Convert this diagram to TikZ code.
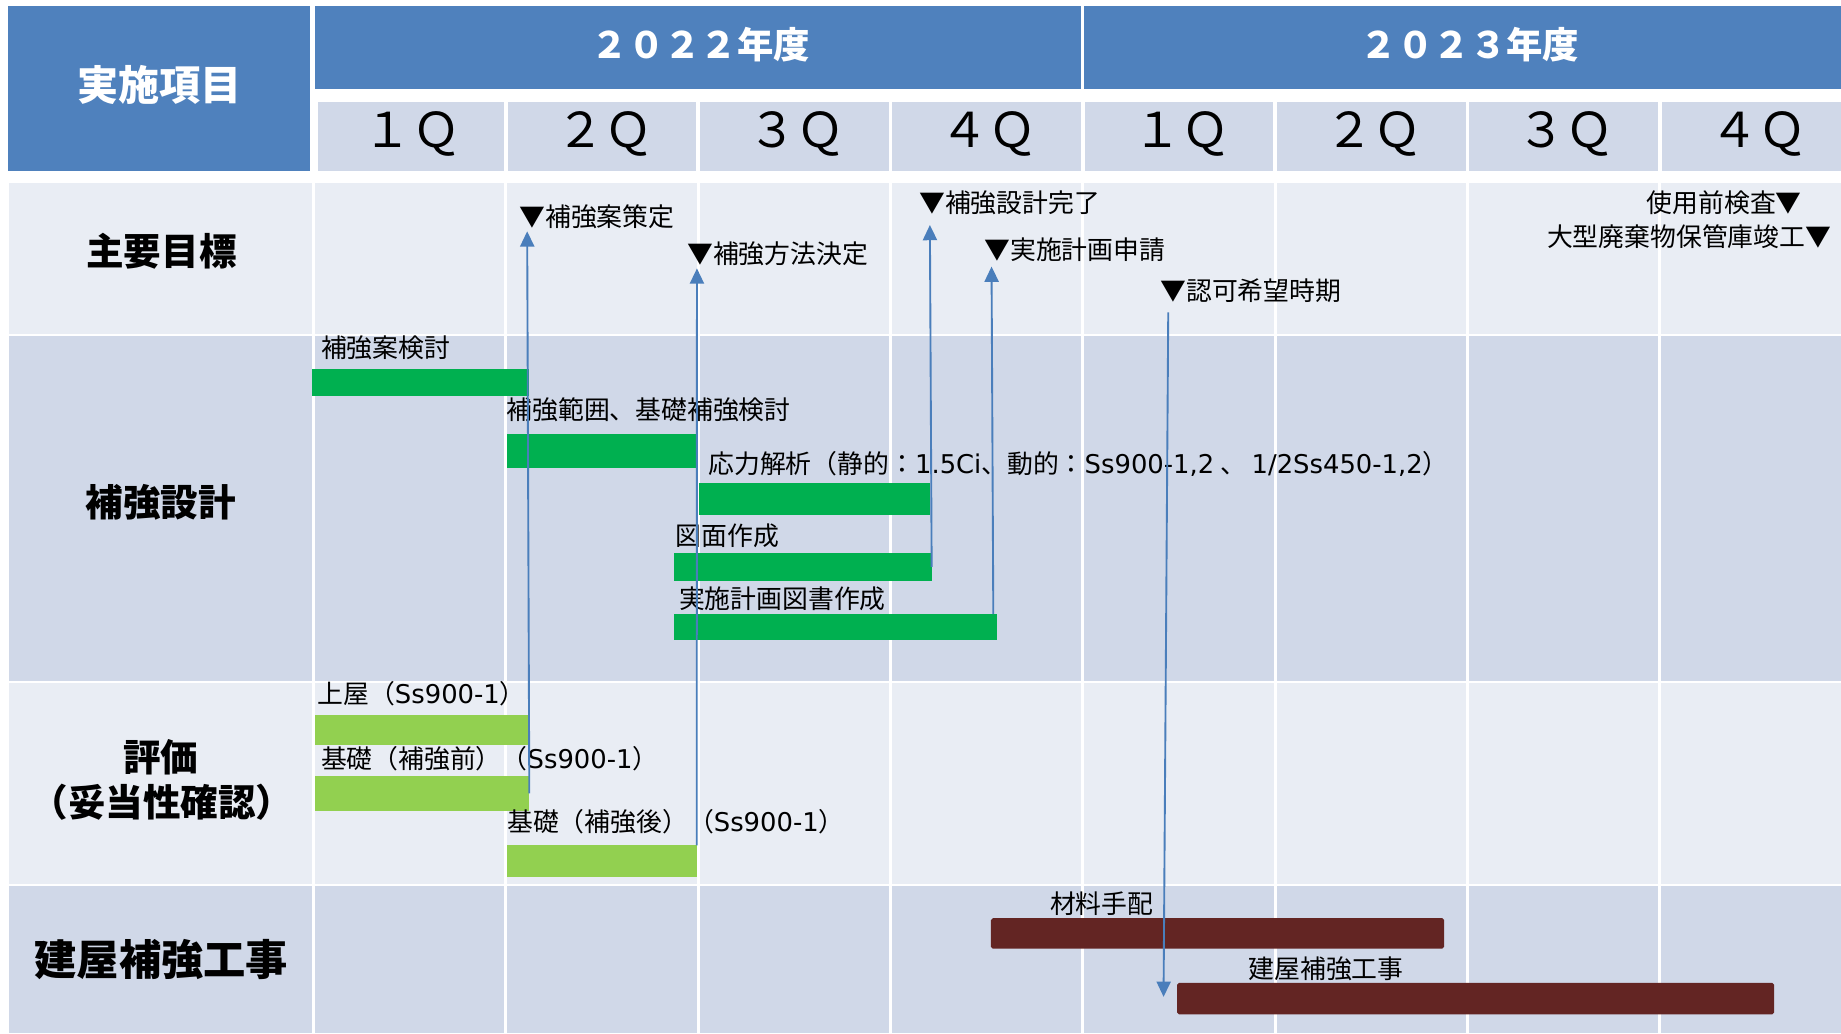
\documentclass[tikz,border=0pt]{standalone}
\usepackage{fontspec}
\setmainfont{Noto Sans CJK JP}
\newfontfamily\latf{DejaVu Sans}
\newcommand{\lt}[1]{{\latf #1}}
\usetikzlibrary{arrows.meta}
\definecolor{hdr}{HTML}{4F81BD}
\definecolor{qcell}{HTML}{D0D8E8}
\definecolor{lrow}{HTML}{E9EDF4}
\definecolor{barG}{HTML}{00B050}
\definecolor{barL}{HTML}{92D050}
\definecolor{barR}{HTML}{632523}
\definecolor{arrC}{HTML}{4A7EBB}
\begin{document}
\begin{tikzpicture}[x=0.5pt,y=-0.5pt,
  lbl/.style={anchor=west, inner sep=0pt, font=\fontsize{11pt}{13pt}\selectfont, text height=9.6pt, text depth=1.4pt},
  lblr/.style={lbl, anchor=east},
  hdrtxt/.style={inner sep=0pt, text=white, font=\bfseries\fontsize{17.5pt}{20pt}\selectfont, text height=15.4pt, text depth=2.1pt},
  yeartxt/.style={inner sep=0pt, text=white, font=\bfseries\fontsize{15.5pt}{18pt}\selectfont, text height=13.6pt, text depth=1.9pt},
  qtxt/.style={inner sep=0pt, font=\fontsize{20.5pt}{24pt}\selectfont, text height=18pt, text depth=2.5pt},
  rowlbl/.style={inner sep=0pt, font=\bfseries\fontsize{16pt}{19pt}\selectfont, text height=14.1pt, text depth=1.9pt},
  rowbig/.style={inner sep=0pt, font=\bfseries\fontsize{18pt}{21pt}\selectfont, text height=15.8pt, text depth=2.2pt},
  barbase/.style={inner sep=0pt, outer sep=0pt, anchor=north west, draw=none},
  gbar/.style={barbase, fill=barG},
  lbar/.style={barbase, fill=barL},
  rbar/.style={barbase, fill=barR, rounded corners=0.8pt},
  arr/.style={draw=arrC, line width=0.8pt, -{Triangle[width=6pt,length=6.5pt]}}
]
\useasboundingbox (0,0) rectangle (1568,880);
\fill[white] (0,0) rectangle (1568,880);
% header
\fill[hdr] (7,5) rectangle (264,146);
\fill[hdr] (268,5) rectangle (921,76);
\fill[hdr] (923,5) rectangle (1568,76);
\foreach \a/\b in {271/429.3, 432.3/593.1, 596.1/756.9, 759.9/920.7, 923.7/1084.5, 1087.5/1248.3, 1251.3/1412.1, 1415.1/1568}
  \fill[qcell] (\a,86.5) rectangle (\b,146);
% body rows
\fill[lrow] (7.5,156) rectangle (1568,284.5);
\fill[qcell] (7.5,286) rectangle (1568,580);
\fill[lrow] (7.5,582) rectangle (1568,752.5);
\fill[qcell] (7.5,754.5) rectangle (1568,880);
\foreach \x in {267,430.8,594.6,758.4,922.2,1086,1249.8,1413.6}
  \draw[white, line width=1.25pt] (\x,156) -- (\x,880);
% header texts
\node[hdrtxt] (hItem) at (136,72) {実施項目};
\node[yeartxt] (y22) at (597,38.5) {２０２２年度};
\node[yeartxt] (y23) at (1252,38.5) {２０２３年度};
\foreach \i/\x/\t in {1/351/１Ｑ, 2/514.7/２Ｑ, 3/678.5/３Ｑ, 4/842.3/４Ｑ, 5/1006/１Ｑ, 6/1170/２Ｑ, 7/1333.7/３Ｑ, 8/1497.5/４Ｑ}
  \node[qtxt] (q\i) at (\x,110) {\t};
% row labels
\node[rowlbl] (rGoal) at (137.5,213.5) {主要目標};
\node[rowlbl] (rDesign) at (137,428) {補強設計};
\node[rowlbl] (rEvalA) at (137,644.5) {評価};
\node[rowlbl] (rEvalB) at (138,683) {（妥当性確認）};
\node[rowbig] (rWork) at (137.5,817.5) {建屋補強工事};
% design bars
\node[gbar, minimum width=92.5pt, minimum height=11.2pt] (b1) at (265.5,314.6) {};
\node[gbar, minimum width=81pt, minimum height=14.25pt] (b2) at (432,369.8) {};
\node[gbar, minimum width=98.5pt, minimum height=13.5pt] (b3) at (595,411.5) {};
\node[gbar, minimum width=109.75pt, minimum height=12pt] (b4) at (574,470.7) {};
\node[gbar, minimum width=137.5pt, minimum height=11pt] (b5) at (574,523) {};
\node[lbl] (tb1) at (273,296) {補強案検討};
\node[lbl] (tb2) at (431,349) {補強範囲、基礎補強検討};
\node[lbl] (tb3) at (603,395) {応力解析（静的：\lt{1.5Ci}、動的：\lt{Ss900-1,2} 、 \lt{1/2Ss450-1,2}）};
\node[lbl] (tb4) at (575,456) {図面作成};
\node[lbl] (tb5) at (578,510) {実施計画図書作成};
% evaluation bars
\node[lbar, minimum width=91.3pt, minimum height=12.75pt] (e1) at (268,609) {};
\node[lbar, minimum width=91.4pt, minimum height=14.75pt] (e2) at (268,661) {};
\node[lbar, minimum width=80.7pt, minimum height=13.5pt] (e3) at (432,720) {};
\node[lbl] (te1) at (270,591) {上屋（\lt{Ss900-1}）};
\node[lbl] (te2) at (273,646) {基礎（補強前）（\lt{Ss900-1}）};
\node[lbl] (te3) at (431.6,700) {基礎（補強後）（\lt{Ss900-1}）};
% construction bars
\node[rbar, minimum width=193pt, minimum height=13pt] (c1) at (844,782) {};
\node[rbar, minimum width=254.2pt, minimum height=13.5pt] (c2) at (1002.6,837) {};
\node[lbl] (tc1) at (894,770) {材料手配};
\node[lbl] (tc2) at (1063,825) {建屋補強工事};
% milestones
\node[lbl] (m1) at (442,185) {▼補強案策定};
\node[lbl] (m2) at (585,216) {▼補強方法決定};
\node[lbl] (m3) at (782.6,173) {▼補強設計完了};
\node[lbl] (m4) at (838,212.6) {▼実施計画申請};
\node[lbl] (m5) at (988,248) {▼認可希望時期};
\node[lblr] (m6) at (1535,172.6) {使用前検査▼};
\node[lblr] (m7) at (1560,202) {大型廃棄物保管庫竣工▼};
% arrow ends
\coordinate (tA) at (449,197);
\coordinate (tB) at (593.6,228.6);
\coordinate (tC) at (792,191.6);
\coordinate (tD) at (844.5,227);
\coordinate (sD) at (846,523);
\coordinate (sE) at (995,266);
\coordinate (tE) at (991,849);
\draw[arr] (e2.east) -- (tA);
\draw[arr] (e3.north east) -- (tB);
\draw[arr] (b4.east) -- (tC);
\draw[arr] (sD) -- (tD);
\draw[arr] (sE) -- (tE);
\end{tikzpicture}
\end{document}
